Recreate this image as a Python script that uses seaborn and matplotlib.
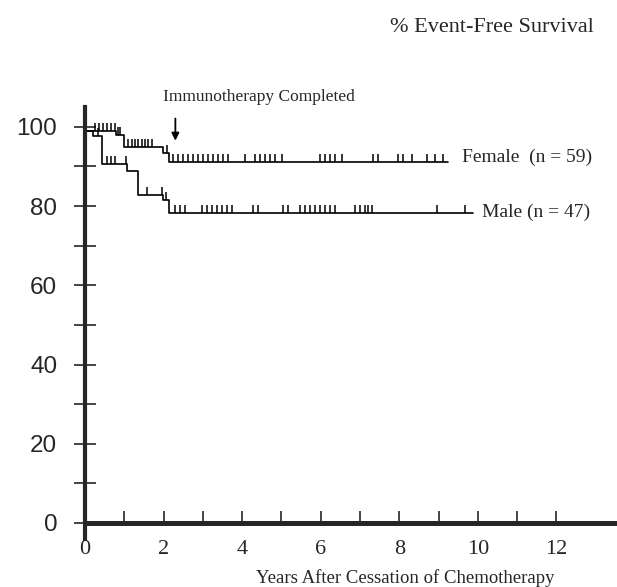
import numpy as np
import pandas as pd
import matplotlib
matplotlib.use("Agg")
import matplotlib.pyplot as plt
import seaborn as sns

# step curves (years, % event-free)
female_times = [0, 0.79, 0.98, 1.99, 2.15, 9.24]
female_surv = [99.0, 98.0, 95.0, 93.4, 91.2, 91.2]
male_times = [0, 0.21, 0.42, 1.06, 1.36, 1.99, 2.15, 9.87]
male_surv = [99.0, 97.8, 90.6, 88.9, 82.8, 81.6, 78.2, 78.2]

# censored observations (years)
female_censor = [0.25, 0.36, 0.47, 0.57, 0.67, 0.76, 0.83, 0.90,
                 1.10, 1.19, 1.27, 1.36, 1.44, 1.53, 1.61, 1.70, 2.09,
                 2.25, 2.37, 2.50, 2.63, 2.76, 2.88, 3.01, 3.14, 3.26, 3.39, 3.52, 3.65,
                 4.07, 4.33, 4.45, 4.58, 4.71, 4.83, 5.01,
                 5.98, 6.11, 6.23, 6.36, 6.53, 7.33, 7.46, 7.96, 8.09, 8.32,
                 8.70, 8.91, 9.11]
male_censor = [0.34, 0.55, 0.66, 0.76, 1.04, 1.57, 1.95, 2.06,
               2.29, 2.42, 2.54, 2.97, 3.10, 3.22, 3.35, 3.48, 3.61, 3.73,
               4.27, 4.40, 5.04, 5.17, 5.47, 5.60, 5.73, 5.85, 5.98, 6.11, 6.23, 6.36,
               6.87, 7.00, 7.12, 7.20, 7.30, 8.96, 9.67]

group_labels = ["Female  (n = 59)", "Male (n = 47)"]


def level_at(times, surv, t):
    idx = np.searchsorted(times, t, side="right") - 1
    return np.asarray(surv)[idx]


df = pd.concat([
    pd.DataFrame({"years": female_times, "surv": female_surv, "group": "Female"}),
    pd.DataFrame({"years": male_times, "surv": male_surv, "group": "Male"}),
])

sns.set_style("ticks")
fig = plt.figure(figsize=(6.17, 5.87), dpi=100)
ax = fig.add_axes([85 / 617, 0.0821, 1 - 85 / 617, 0.7356])

sns.lineplot(data=df, x="years", y="surv", hue="group", palette={"Female": "k", "Male": "k"},
             estimator=None, drawstyle="steps-post", linewidth=1.2, legend=False, ax=ax)

# censor marks
ax.plot(female_censor, level_at(female_times, female_surv, female_censor), linestyle="none",
        marker=2, markersize=5.5, markeredgewidth=1.1, color="k")
ax.plot(male_censor, level_at(male_times, male_surv, male_censor), linestyle="none",
        marker=2, markersize=5.5, markeredgewidth=1.1, color="k")

ax.set_xlim(0, 13.54)
ax.set_ylim(-4, 105)
ax.spines["top"].set_visible(False)
ax.spines["right"].set_visible(False)
ax.spines["bottom"].set_position(("data", 0))
ax.spines["left"].set_linewidth(3)
ax.spines["bottom"].set_linewidth(3.6)

ax.set_xticks(range(0, 13, 2))
ax.set_xticks(range(1, 13, 2), minor=True)
ax.set_yticks(range(0, 101, 20))
ax.set_yticks(range(10, 100, 20), minor=True)
ax.tick_params(axis="x", which="both", direction="in", length=9, width=1.2, pad=12, labelsize=16)
ax.tick_params(axis="y", which="both", direction="inout", length=16, width=1.2, pad=12, labelsize=17.5)
for lab in ax.get_xticklabels():
    lab.set_fontfamily("Liberation Serif")
for lab in ax.get_yticklabels():
    lab.set_fontfamily("Liberation Sans")
ax.set_xlabel("")
ax.set_ylabel("")

serif = "Liberation Serif"
ax.text(9.6, 92.4, group_labels[0], fontsize=14, family=serif, va="center", ha="left")
ax.text(10.1, 78.5, group_labels[1], fontsize=14, family=serif, va="center", ha="left")
ax.text(4.43, 107.6, "Immunotherapy Completed", fontsize=12.5, family=serif,
        ha="center", va="center", clip_on=False)
ax.annotate("", xy=(2.3, 95.8), xytext=(2.3, 102.8), annotation_clip=False,
            arrowprops=dict(arrowstyle="-|>", color="k", lw=1.3, mutation_scale=11))

fig.text(492 / 617, 1 - 27 / 587, "% Event-Free Survival", fontsize=16, family=serif,
         ha="center", va="center")
fig.text(405 / 617, 1 - 578 / 587, "Years After Cessation of Chemotherapy", fontsize=13.5,
         family=serif, ha="center", va="center")

fig.savefig("out.png", dpi=100)
